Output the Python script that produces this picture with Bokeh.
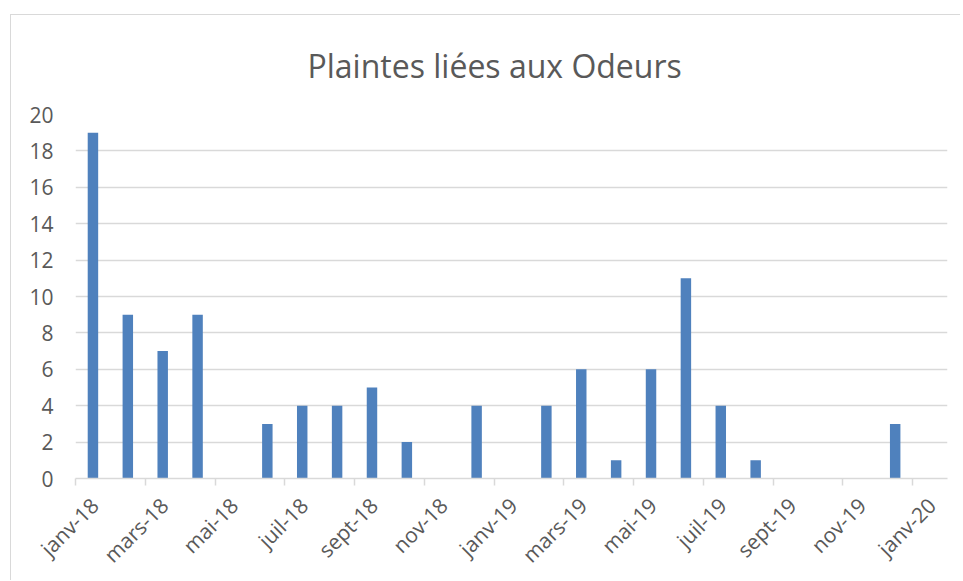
import math
from bokeh.plotting import figure
from bokeh.models import FixedTicker, Range1d, LinearAxis
from bokeh.embed import file_html
from bokeh.resources import INLINE

months = ["janv-18", "févr-18", "mars-18", "avr-18", "mai-18", "juin-18",
          "juil-18", "août-18", "sept-18", "oct-18", "nov-18", "déc-18",
          "janv-19", "févr-19", "mars-19", "avr-19", "mai-19", "juin-19",
          "juil-19", "août-19", "sept-19", "oct-19", "nov-19", "déc-19"]
plaintes = [19, 9, 7, 9, 0, 3, 4, 4, 5, 2, 0, 4,
            0, 4, 6, 1, 6, 11, 4, 1, 0, 0, 0, 3]
tick_labels = ["janv-18", "mars-18", "mai-18", "juil-18", "sept-18", "nov-18",
               "janv-19", "mars-19", "mai-19", "juil-19", "sept-19", "nov-19",
               "janv-20"]
y_ticks = [0, 2, 4, 6, 8, 10, 12, 14, 16, 18, 20]
title_text = "Plaintes liées aux Odeurs"

FONT = "Open Sans"
TXT = "#595959"
GRID = "#D9D9D9"
BAR = "#4F81BD"

n_months = len(months) + 1          # axis spans janv-18 .. janv-20 inclusive
x_centers = [i + 0.5 for i in range(len(months))]
tick_pos = [2 * i for i in range(len(tick_labels))]
label_shift = 0.55                  # rotated label ends just right of its tick
label_pos = [t + label_shift for t in tick_pos]

p = figure(width=950, height=566, output_backend="svg", toolbar_location=None,
           x_range=Range1d(0, n_months), y_range=Range1d(0, 20),
           min_border_left=64, min_border_right=14, min_border_top=99,
           min_border_bottom=100, x_axis_type=None)
p.margin = (14, 0, 0, 10)
p.styles = {"border-top": f"1px solid {GRID}", "border-left": f"1px solid {GRID}"}
p.outline_line_color = None
p.background_fill_color = "white"
p.border_fill_color = "white"

p.vbar(x=x_centers, top=plaintes, width=0.3, fill_color=BAR, line_color=None)

p.title.text = title_text
p.title.text_font = FONT
p.title.text_font_size = "32px"
p.title.text_font_style = "normal"
p.title.text_color = TXT
p.title.align = "left"
p.title.offset = 232
p.title.vertical_align = "top"
p.title.standoff = 52

# x axis: line and tick marks
xa = LinearAxis(ticker=FixedTicker(ticks=tick_pos))
xa.major_label_overrides = {t: "" for t in tick_pos}
xa.major_label_text_font_size = "1px"
xa.major_label_standoff = 0
xa.axis_line_color = GRID
xa.axis_line_width = 1.5
xa.major_tick_line_color = GRID
xa.major_tick_line_width = 1.5
xa.major_tick_out = 7
xa.major_tick_in = 0
xa.minor_tick_line_color = None
xa.minor_tick_out = 0
p.add_layout(xa, "below")

# axis carrying the rotated labels
xl = LinearAxis(ticker=FixedTicker(ticks=label_pos))
xl.major_label_overrides = {t: lab for t, lab in zip(label_pos, tick_labels)}
xl.major_label_orientation = math.pi / 4
xl.major_label_text_font = FONT
xl.major_label_text_font_size = "21px"
xl.major_label_text_color = TXT
xl.axis_line_color = None
xl.major_tick_line_color = None
xl.minor_tick_line_color = None
xl.major_tick_out = 0
xl.major_tick_in = 0
xl.minor_tick_out = 0
xl.major_label_standoff = 16
p.add_layout(xl, "below")

ya = p.yaxis[0]
ya.ticker = FixedTicker(ticks=y_ticks)
ya.major_label_text_font = FONT
ya.major_label_text_font_size = "21px"
ya.major_label_text_color = TXT
ya.axis_line_color = None
ya.major_tick_line_color = None
ya.minor_tick_line_color = None
ya.major_tick_out = 0
ya.major_tick_in = 0
ya.major_label_standoff = 22

p.xgrid.grid_line_color = None
p.ygrid.grid_line_color = GRID
p.ygrid.grid_line_width = 1.5
p.ygrid.ticker = FixedTicker(ticks=y_ticks)

open("out.html", "w").write(file_html(p, INLINE))
